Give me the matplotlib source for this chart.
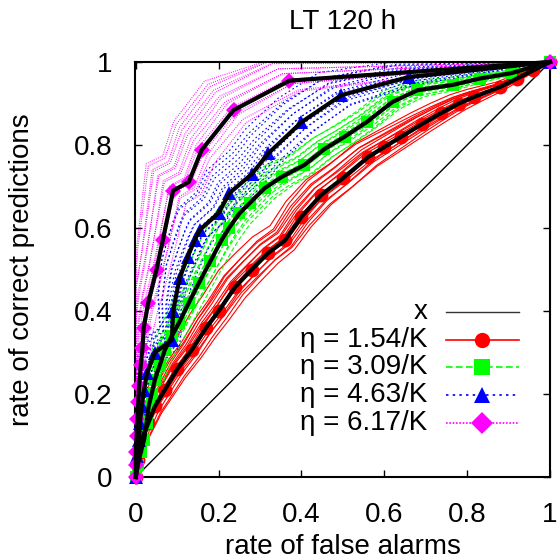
import numpy as np
import matplotlib
matplotlib.use("Agg")
import matplotlib.pyplot as plt

plt.rcParams['font.family'] = ['Liberation Sans', 'DejaVu Sans']
plt.rcParams['font.size'] = 20

# ====== DATA ======
labels = ["\u03b7 = 1.54/K", "\u03b7 = 3.09/K", "\u03b7 = 4.63/K", "\u03b7 = 6.17/K"]
colors = ["#ff0000", "#00ff00", "#0000ff", "#ff00ff"]
markers = ["o", "s", "^", "D"]

red_x = [0, 0.005, 0.014, 0.03, 0.046, 0.07, 0.1, 0.135, 0.17, 0.2, 0.24, 0.28, 0.32,
         0.36, 0.4, 0.448, 0.5, 0.561, 0.6, 0.641, 0.69, 0.737, 0.78, 0.817, 0.88,
         0.92, 0.96, 1.0]
red_y = [0, 0.04, 0.09, 0.13, 0.17, 0.21, 0.26, 0.306, 0.36, 0.4, 0.458, 0.5, 0.54,
         0.57, 0.627, 0.68, 0.72, 0.771, 0.795, 0.82, 0.85, 0.877, 0.9, 0.916, 0.94,
         0.96, 0.98, 1.0]

green_x = [0, 0.005, 0.012, 0.02, 0.026, 0.031, 0.038, 0.046, 0.058, 0.07, 0.087,
           0.104, 0.128, 0.152, 0.18, 0.207, 0.225, 0.25, 0.275, 0.311, 0.352, 0.407,
           0.455, 0.504, 0.557, 0.62, 0.68, 0.766, 0.83, 0.906, 1.0]
green_y = [0, 0.03, 0.06, 0.09, 0.13, 0.17, 0.2, 0.234, 0.27, 0.306, 0.34, 0.371,
           0.42, 0.467, 0.52, 0.571, 0.6, 0.635, 0.66, 0.696, 0.723, 0.752, 0.79,
           0.82, 0.855, 0.904, 0.932, 0.945, 0.96, 0.973, 1.0]

blue_x = [0, 0.003, 0.007, 0.01, 0.014, 0.02, 0.027, 0.046, 0.087, 0.09, 0.106,
          0.125, 0.142, 0.154, 0.2, 0.226, 0.28, 0.32, 0.4, 0.496, 0.66, 1.0]
blue_y = [0, 0.05, 0.09, 0.13, 0.17, 0.21, 0.25, 0.3, 0.33, 0.4, 0.48, 0.53, 0.571,
          0.595, 0.636, 0.684, 0.73, 0.78, 0.855, 0.92, 0.964, 1.0]

magenta_x = [0, 0, 0, 0.002, 0.004, 0.006, 0.008, 0.012, 0.016, 0.019, 0.03, 0.05,
             0.065, 0.09, 0.128, 0.159, 0.236, 0.371, 1.0]
magenta_y = [0, 0.03, 0.06, 0.1, 0.14, 0.18, 0.22, 0.27, 0.31, 0.36, 0.42, 0.5,
             0.57, 0.69, 0.711, 0.788, 0.884, 0.955, 1.0]

# spread of the thin single runs around each mean (shift across the diagonal, tilt)
red_spread = [(-0.035, 0.01), (-0.028, -0.02), (-0.022, 0.02), (-0.016, -0.01),
              (-0.01, 0.02), (-0.005, -0.02), (0.0, 0.01), (0.005, -0.02),
              (0.01, 0.02), (0.015, -0.01), (0.02, 0.02), (0.026, -0.02),
              (0.032, 0.01), (0.038, -0.01), (0.045, 0.02), (0.055, -0.02)]
green_spread = [(-0.035, 0.015), (-0.028, -0.01), (-0.02, 0.015), (-0.014, -0.015),
                (-0.008, 0.01), (-0.003, -0.015), (0.003, 0.015), (0.008, -0.01),
                (0.014, 0.015), (0.02, -0.015), (0.026, 0.01), (0.032, -0.01),
                (0.04, 0.015), (0.048, -0.015)]
blue_spread = [(-0.04, 0.015), (-0.03, -0.015), (-0.022, 0.02), (-0.015, -0.01),
               (-0.008, 0.015), (0.0, -0.02), (0.008, 0.015), (0.016, -0.015),
               (0.024, 0.02), (0.032, -0.01), (0.04, 0.015), (0.05, -0.015),
               (0.06, 0.01), (0.07, -0.015), (0.08, 0.01)]
magenta_spread = [(-0.045, 0.015), (-0.03, -0.015), (-0.018, 0.02), (-0.008, -0.01),
                  (0.0, 0.015), (0.01, -0.015), (0.02, 0.02), (0.03, -0.01),
                  (0.04, 0.015), (0.05, -0.015), (0.06, 0.015), (0.07, -0.01),
                  (0.08, 0.01), (0.09, -0.01), (0.1, 0.0)]

means_x = [red_x, green_x, blue_x, magenta_x]
means_y = [red_y, green_y, blue_y, magenta_y]
spreads = [red_spread, green_spread, blue_spread, magenta_spread]
dashes = [None, (4, 2), (1.5, 2.5), (0.8, 1.2)]
marker_sizes = [10, 9, 10.5, 8.5]
# ========================================

fig = plt.figure(figsize=(5.58, 5.59), dpi=100)
ax = fig.add_axes([135 / 558, 1 - 477 / 559, 415 / 558, 415 / 559])

# diagonal "x"
diag = np.array([0.0, 1.0])
ax.plot(diag, diag, color='black', lw=1.0, zorder=1)

for mx, my, spr, c, m, d, msz in zip(means_x, means_y, spreads, colors, markers,
                                     dashes, marker_sizes):
    mx = np.array(mx)
    my = np.array(my)
    gap = my - mx
    w = gap / gap.max()
    t = (mx + my) / 2
    for a, b in spr:
        s = (a + b * (2 * t - 1)) * w * 0.7
        rx = np.clip(mx - s, 0, 1)
        ry = np.clip(my + s, 0, 1)
        ln, = ax.plot(rx, ry, color=c, lw=0.8, zorder=2)
        if d is not None:
            ln.set_dashes(d)
    ax.plot(mx, my, color=c, lw=1, marker=m, ms=msz, markeredgewidth=0, zorder=3,
            clip_on=False)
    ax.plot(mx, my, color='black', lw=3, zorder=4, clip_on=False)

ax.set_xlim(-0.002, 1)
ax.set_ylim(0, 1)
ax.set_xticks([0, 0.2, 0.4, 0.6, 0.8, 1])
ax.set_xticklabels(["0", "0.2", "0.4", "0.6", "0.8", "1"])
ax.set_yticks([0, 0.2, 0.4, 0.6, 0.8, 1])
ax.set_yticklabels(["0", "0.2", "0.4", "0.6", "0.8", "1"])
ax.tick_params(direction='in', length=5, width=1, top=True, right=True, labelsize=20)
ax.tick_params(axis='x', pad=18)
ax.tick_params(axis='y', pad=16)
for sp in ax.spines.values():
    sp.set_linewidth(1.5)

ax.set_title("LT 120 h", fontsize=20, pad=24)
ax.set_xlabel("rate of false alarms", fontsize=20, labelpad=4)
ax.set_ylabel("rate of correct predictions", fontsize=20, labelpad=28)

# key, gnuplot style: text right aligned, sample on the right
key_y = [0.398, 0.330, 0.265, 0.198, 0.130]
ax.text(0.705, key_y[0], "x", ha='right', va='center', transform=ax.transAxes,
        fontsize=20, zorder=6)
ax.plot([0.749, 0.925], [key_y[0]] * 2, color='#333333', lw=1, transform=ax.transAxes,
        zorder=6)
for yk, lab, c, m, d in zip(key_y[1:], labels, colors, markers, dashes):
    ax.text(0.705, yk, lab, ha='right', va='center', transform=ax.transAxes,
            fontsize=20, zorder=6)
    ln, = ax.plot([0.749, 0.925], [yk, yk], color=c, lw=1.2, transform=ax.transAxes,
                  zorder=6)
    if d is not None:
        ln.set_dashes(d if d != (0.8, 1.2) else (1, 1))
    ax.plot([0.837], [yk], color=c, marker=m, ms=11, markeredgewidth=0,
            transform=ax.transAxes, zorder=7)

fig.savefig("out.png", dpi=100)
